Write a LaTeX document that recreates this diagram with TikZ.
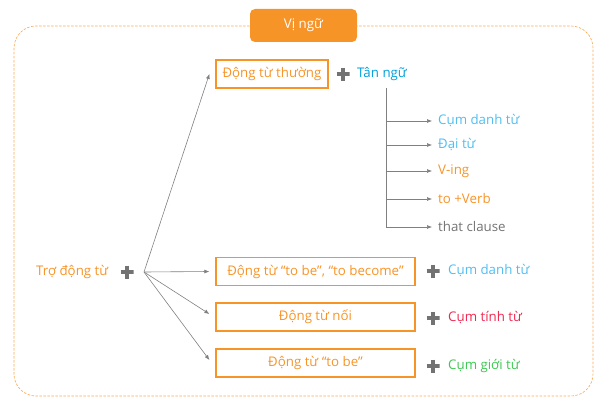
\documentclass[tikz,border=0pt]{standalone}
\usepackage{fontspec}
\setmainfont{Open Sans}
\usetikzlibrary{arrows.meta}
\definecolor{vnorange}{RGB}{247,148,40}
\definecolor{vnblue}{RGB}{0,160,220}
\definecolor{vnsky}{RGB}{80,190,240}
\definecolor{vnred}{RGB}{240,40,80}
\definecolor{vngreen}{RGB}{60,200,80}
\definecolor{vngray}{RGB}{115,115,115}
\begin{document}
\begin{tikzpicture}[x=1pt,y=-1pt,
    every node/.style={font=\fontsize{13.3}{15}\selectfont},
    vbox/.style={draw=vnorange,line width=1.2pt,text=vnorange,minimum height=28pt,inner sep=0pt},
    lbl/.style={anchor=west,inner sep=0pt},
    plus/.style={minimum size=13pt,inner sep=0pt,path picture={
        \draw[vngray,line width=4pt] (path picture bounding box.north) -- (path picture bounding box.south)
          (path picture bounding box.west) -- (path picture bounding box.east);}},
    arr/.style={draw=gray,line width=0.6pt,-{Latex[length=5pt,width=4pt]}}]
  \useasboundingbox (0,0) rectangle (607,404);
  \draw[vnorange!80,line width=0.6pt,dash pattern=on 2.5pt off 1.5pt,rounded corners=22pt] (14,26) rectangle (593,396);
  \node[fill=vnorange,rounded corners=5pt,text=white,minimum width=107pt,minimum height=33pt] (vingu) at (303.5,25.5) {Vị ngữ};
  \node[vbox,minimum width=112pt] (thuong) at (272,74) {Động từ thường};
  \node[plus] (p0) at (343,74) {};
  \node[lbl,text=vnblue] (tan) at (357,74) {Tân ngữ};
  \coordinate (tr) at (386,88);
  \coordinate (ke) at (386,227);
  \draw[gray,line width=0.6pt] (tr) -- (ke);
  \foreach \n/\y/\c/\t in {a/121/vnsky/Cụm danh từ,b/145/vnsky/Đại từ,c/171/vnorange/V-ing,d/199/vnorange/to +Verb,e/227/vngray/that clause}{
    \node[lbl,text=\c] (tn\n) at (438,\y) {\t};
    \coordinate (k\n) at (386,\y);
    \draw[arr] (k\n) -- ([xshift=-6pt]tn\n.west);
  }
  \node[lbl,text=vnorange] (tro) at (36,272) {Trợ động từ};
  \node[plus] (p1) at (127,272) {};
  \coordinate (fan) at (144,272);
  \node[vbox,minimum width=199pt] (be1) at (315.5,271.5) {Động từ “to be”, “to become”};
  \node[vbox,minimum width=199pt] (noi) at (315.5,317) {Động từ nối};
  \node[vbox,minimum width=199pt] (be2) at (315.5,363) {Động từ “to be”};
  \draw[arr] (fan) -- ([xshift=-6pt]thuong.west);
  \draw[arr] (fan) -- ([xshift=-6pt]be1.west);
  \draw[arr] (fan) -- ([xshift=-6pt,yshift=3pt]noi.west);
  \draw[arr] (fan) -- ([xshift=-6pt,yshift=3pt]be2.west);
  \node[plus] (p2) at (433,271) {};
  \node[lbl,text=vnsky] (cdt) at (448,271) {Cụm danh từ};
  \node[plus] (p3) at (433,318) {};
  \node[lbl,text=vnred] (ctt) at (448,318) {Cụm tính từ};
  \node[plus] (p4) at (433,366) {};
  \node[lbl,text=vngreen] (cgt) at (448,366) {Cụm giới từ};
\end{tikzpicture}
\end{document}
